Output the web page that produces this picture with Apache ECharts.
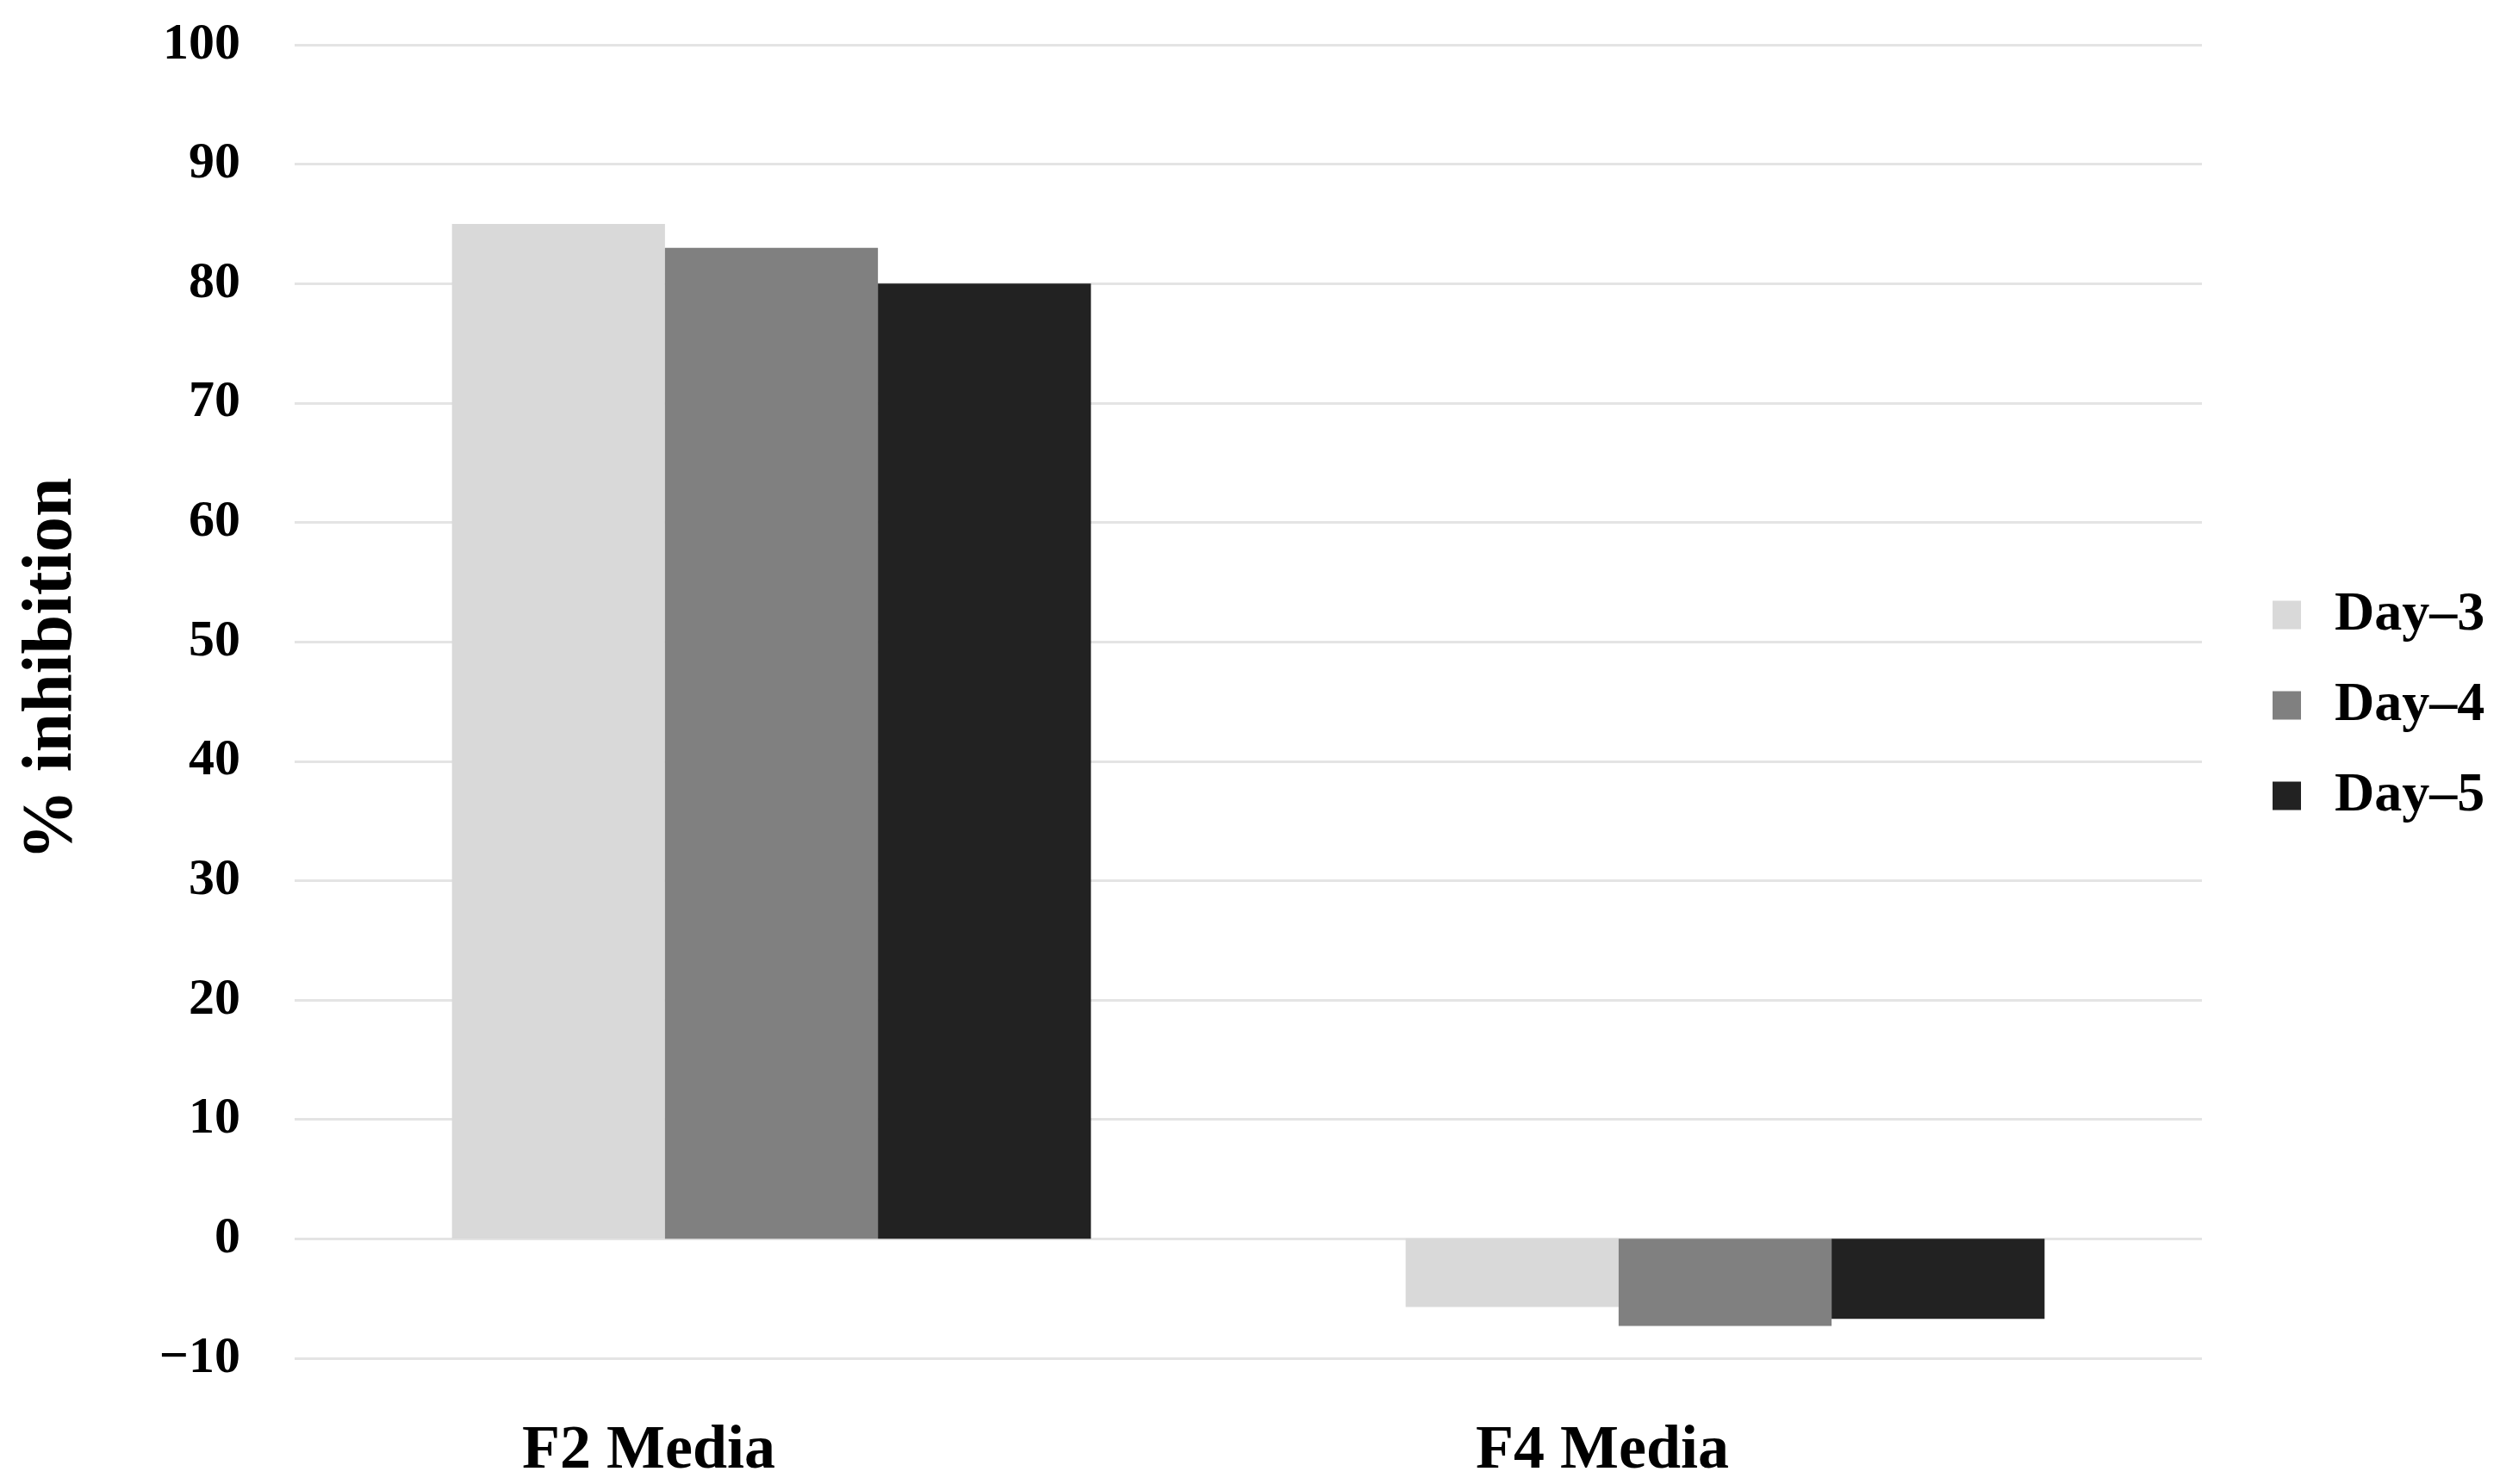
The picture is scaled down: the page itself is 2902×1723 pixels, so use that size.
<!DOCTYPE html>
<html>
<head>
<meta charset="utf-8">
<script src="https://cdn.jsdelivr.net/npm/echarts@6/dist/echarts.min.js"></script>
<style>
  html, body { margin: 0; padding: 0; background: #fff; }
  #chart { width: 2902px; height: 1723px; }
</style>
</head>
<body>
<div id="chart"></div>
<script>
const categories = ['F2 Media', 'F4 Media']
const seriesNames = ['Day\u20133', 'Day\u20134', 'Day\u20135']
const day3 = [85, -5.7]
const day4 = [83, -7.3]
const day5 = [80, -6.7]
const colors = ['#d9d9d9', '#808080', '#222222']

const font = '"Liberation Serif", "DejaVu Serif", serif'
const chart = echarts.init(document.getElementById('chart'))

chart.setOption({
  animation: false,
  color: colors,
  grid: { left: 342, right: 346, top: 52, bottom: 146 },
  legend: {
    orient: 'vertical',
    left: 2633,
    top: 677,
    icon: 'rect',
    itemWidth: 33,
    itemHeight: 33,
    itemGap: 41,
    textStyle: { fontFamily: font, fontWeight: 'bold', fontSize: 64, color: '#000', lineHeight: 40, padding: [0, 0, 0, 34] },
    data: seriesNames,
  },
  xAxis: {
    type: 'category',
    data: categories,
    axisLine: { show: false, onZero: false },
    axisTick: { show: false },
    axisLabel: {
      margin: 72,
      fontFamily: font,
      fontWeight: 'bold',
      fontSize: 72,
      color: '#000',
      padding: [0, 285, 0, 0],
    },
  },
  yAxis: {
    type: 'value',
    min: -10,
    max: 100,
    interval: 10,
    name: '% inhibition',
    nameLocation: 'middle',
    nameGap: 240,
    nameTextStyle: { fontFamily: font, fontWeight: 'bold', fontSize: 82, color: '#000', padding: [0, 0, 0, 76] },
    axisLine: { show: false },
    axisTick: { show: false },
    axisLabel: { margin: 63, fontFamily: font, fontWeight: 'bold', fontSize: 60, color: '#000',
      formatter: v => (v < 0 ? '\u2212' + Math.abs(v) : String(v)) },
    splitLine: { lineStyle: { color: '#e4e4e4', width: 3 } },
  },
  series: [
    { name: seriesNames[0], type: 'bar', data: day3, barGap: '0%', barCategoryGap: '33%' },
    { name: seriesNames[1], type: 'bar', data: day4, barGap: '0%', barCategoryGap: '33%' },
    { name: seriesNames[2], type: 'bar', data: day5, barGap: '0%', barCategoryGap: '33%' },
  ],
})
</script>
</body>
</html>
